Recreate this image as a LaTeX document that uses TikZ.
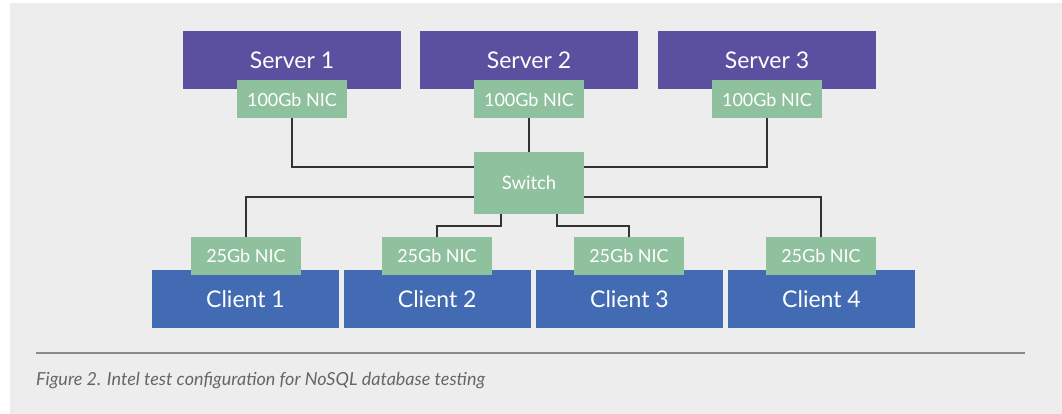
\documentclass[tikz,border=0pt]{standalone}
\usepackage{fontspec}
\setmainfont{Lato}
\definecolor{bgc}{HTML}{EDEDED}
\definecolor{srvc}{HTML}{5B4F9F}
\definecolor{nicc}{HTML}{90C19E}
\definecolor{clic}{HTML}{426BB3}
\definecolor{wirec}{HTML}{333333}
\definecolor{rulec}{HTML}{8A8A8A}
\definecolor{capc}{HTML}{666666}
\tikzset{
  box/.style={inner sep=0pt, outer sep=0pt, text=white},
  server/.style={box, fill=srvc, minimum width=218pt, minimum height=58pt, font=\fontsize{23}{26}\selectfont},
  client/.style={box, fill=clic, minimum width=187pt, minimum height=58pt, font=\fontsize{23}{26}\selectfont},
  nic/.style={box, fill=nicc, minimum width=110pt, minimum height=38pt, font=\fontsize{18}{21}\selectfont},
  switchbox/.style={box, fill=nicc, minimum width=110pt, minimum height=62pt, font=\fontsize{18.5}{21}\selectfont},
  wire/.style={draw=wirec, line width=1.3pt},
}
\begin{document}
\begin{tikzpicture}[x=1pt,y=-1pt]
\useasboundingbox (0,0) rectangle (1062,414);
\fill[bgc] (10,3) rectangle (1062,414);

% servers and their NICs
\node[server] (s1) at (292,60) {Server 1};
\node[server] (s2) at (529,60) {Server 2};
\node[server] (s3) at (767,60) {Server 3};
\node[nic] (n1) at (292,99.5) {100Gb NIC};
\node[nic] (n2) at (529,99.5) {100Gb NIC};
\node[nic] (n3) at (767,99.5) {100Gb NIC};

% switch
\node[switchbox] (sw) at (529,183) {Switch};

% clients and their NICs
\node[client] (c1) at (245.5,299) {Client 1};
\node[client] (c2) at (437.25,299) {Client 2};
\node[client] (c3) at (629.5,299) {Client 3};
\node[client] (c4) at (821.5,299) {Client 4};
\node[nic] (m1) at (246,255.5) {25Gb NIC};
\node[nic] (m2) at (437,255.5) {25Gb NIC};
\node[nic] (m3) at (629,255.5) {25Gb NIC};
\node[nic] (m4) at (821,255.5) {25Gb NIC};

% server-side links
\draw[wire] (n1.south) |- (sw.west |- 0,167);
\draw[wire] (n2.south) -- (sw.north);
\draw[wire] (n3.south) |- (sw.east |- 0,167);

% client-side links
\draw[wire] (sw.west |- 0,197) -| (m1.north);
\draw[wire] (sw.east |- 0,197) -| (m4.north);
\draw[wire] ([xshift=27pt]sw.south west) -- ++(0,12) -| (m2.north);
\draw[wire] ([xshift=-27pt]sw.south east) -- ++(0,12) -| (m3.north);

% caption
\draw[rulec, line width=1.5pt] (36,353) -- (1025,353);
\node[anchor=base west, inner sep=0pt, text=capc, font=\fontsize{18}{21}\selectfont\itshape] (cap) at (36,385) {Figure 2. Intel test configuration for NoSQL database testing};
\end{tikzpicture}
\end{document}
